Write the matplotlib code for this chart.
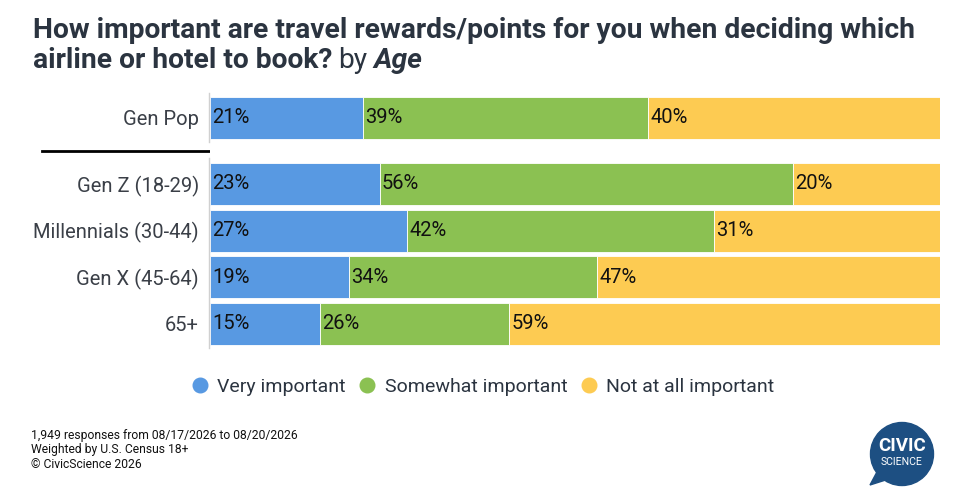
import matplotlib
matplotlib.use("Agg")
import matplotlib.pyplot as plt
from matplotlib.patches import Circle, Polygon

plt.rcParams["font.family"] = ["Roboto", "DejaVu Sans"]

# data
groups = ["Gen Pop", "Gen Z (18-29)", "Millennials (30-44)", "Gen X (45-64)", "65+"]
very = [21, 23, 27, 19, 15]
somewhat = [39, 56, 42, 34, 26]
not_at_all = [40, 20, 31, 47, 59]
series_names = ["Very important", "Somewhat important", "Not at all important"]
colors = ["#5899E2", "#8BC152", "#FDCB52"]

# row positions (Gen Pop sits apart from the age groups)
rows = [4.42, 3, 2, 1, 0]

# rounded shares don't always add to 100, bars are drawn as full rows
totals = [a + b + c for a, b, c in zip(very, somewhat, not_at_all)]

fig = plt.figure(figsize=(9.66, 5.04), dpi=100)
ax = fig.add_axes([210 / 966, 1 - 347.3 / 504, 730 / 966, 253.1 / 504])

left = [0] * len(groups)
for vals, col in zip([very, somewhat, not_at_all], colors):
    widths = [v / t * 100 for v, t in zip(vals, totals)]
    ax.barh(rows, widths, left=left, height=0.9, color=col, edgecolor="white", linewidth=0.6)
    for y, l, v in zip(rows, left, vals):
        ax.text(l + 0.3, y, f"{v}%", va="center", ha="left", fontsize=14.5, color="#111111")
    left = [a + b for a, b in zip(left, widths)]

ax.set_xlim(0, 100)
ax.set_ylim(-0.5, 4.92)
ax.set_yticks(rows)
ax.set_yticklabels(groups, fontsize=14.5, color="#3a3f47")
ax.tick_params(axis="y", length=0, pad=8)
ax.set_xticks([])
for s in ["top", "right", "bottom", "left"]:
    ax.spines[s].set_visible(False)
ax.plot([-0.15, -0.15], [3.9, 4.95], color="#d0d0d0", lw=1, clip_on=False)
ax.plot([-0.15, -0.15], [-0.52, 3.55], color="#d0d0d0", lw=1, clip_on=False)

# overlay in pixel coordinates for separator and logo
ov = fig.add_axes([0, 0, 1, 1], zorder=-1)
ov.set_xlim(0, 966)
ov.set_ylim(504, 0)
ov.axis("off")
ov.plot([42, 930], [151, 151], color="black", lw=2)

# title
fs = 20.3
fig.text(33, 504 - 38, "How important are travel rewards/points for you when deciding which",
         transform=None, fontsize=fs, fontweight="bold", color="#2b3440")
t1 = fig.text(33, 504 - 68, "airline or hotel to book?", transform=None,
              fontsize=fs, fontweight="bold", color="#2b3440")
fig.canvas.draw()
rend = fig.canvas.get_renderer()
bb = t1.get_window_extent(rend)
t2 = fig.text(bb.x1 + 6, 504 - 68, "by", transform=None, fontsize=fs, color="#2b3440")
bb2 = t2.get_window_extent(rend)
fig.text(bb2.x1 + 6, 504 - 68, "Age", transform=None, fontsize=fs,
         fontweight="bold", style="italic", color="#2b3440")

# legend
handles = [plt.Line2D([], [], marker="o", ls="", markersize=10.5, color=c) for c in colors]
fig.legend(handles, series_names, loc="center", bbox_to_anchor=(0.5, 1 - 387 / 504),
           ncol=3, frameon=False, fontsize=14, handlelength=0.8, handletextpad=0.5,
           columnspacing=0.7, labelcolor="#2b3440")

# footer
footer = ["1,949 responses from 08/17/2026 to 08/20/2026",
          "Weighted by U.S. Census 18+",
          "\u00a9 CivicScience 2026"]
for i, line in enumerate(footer):
    fig.text(31, 504 - 439 - i * 14.3, line, transform=None, fontsize=8.7, color="#111111")

# logo
ov.add_patch(Circle((902, 454), 31.5, color="#1d4f82"))
ov.add_patch(Polygon([[878, 470], [870, 485], [892, 478]], color="#1d4f82"))
ov.text(902, 446, "CIVIC", ha="center", va="center", fontsize=13.5, fontweight="bold", color="white")
ov.text(902, 462, "SCIENCE", ha="center", va="center", fontsize=7.6, color="white")

fig.savefig("out.png", dpi=100)
